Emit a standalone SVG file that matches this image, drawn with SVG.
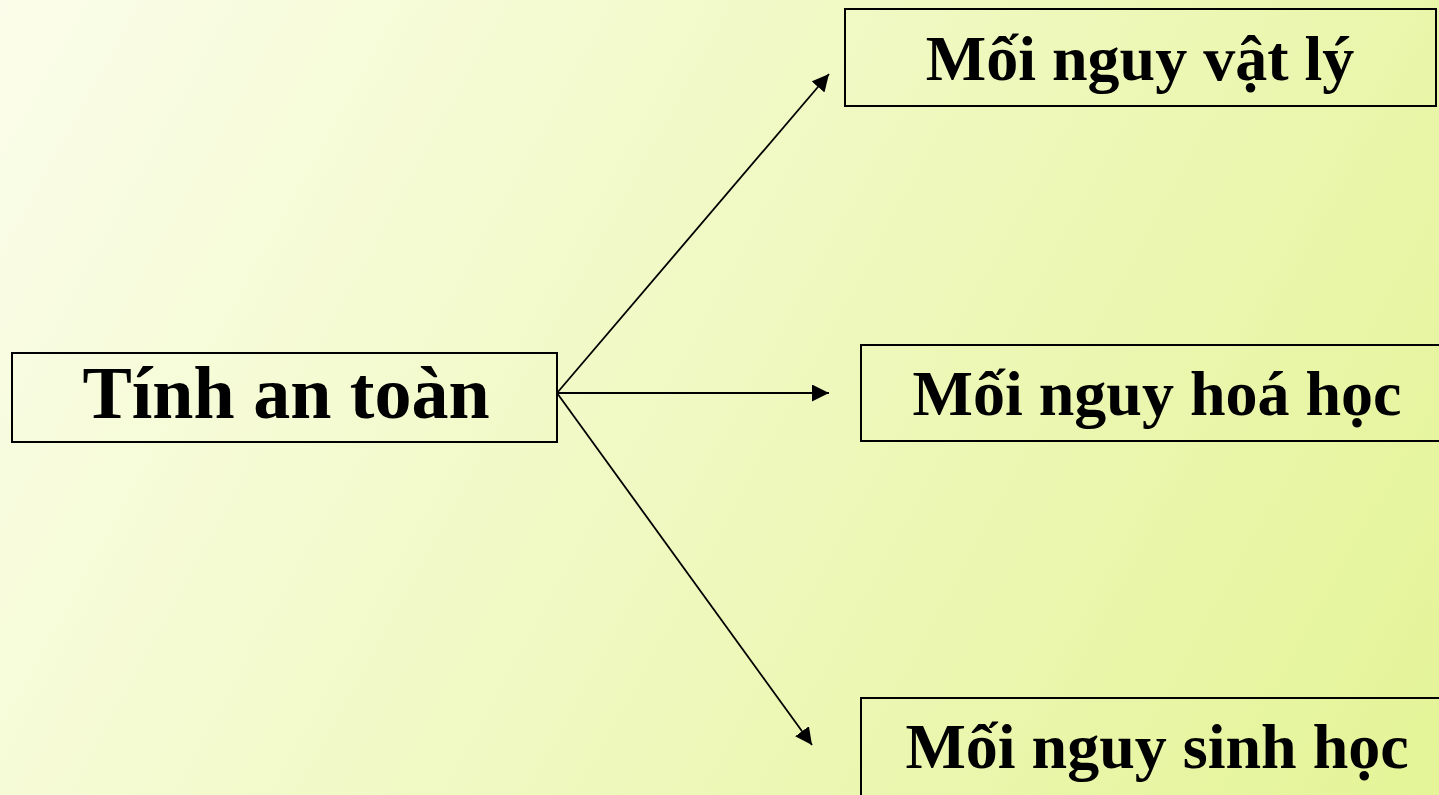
<svg xmlns="http://www.w3.org/2000/svg" width="1439" height="795" viewBox="0 0 1439 795">
  <defs>
    <linearGradient id="bg" x1="0" y1="0" x2="1439" y2="795" gradientUnits="userSpaceOnUse">
      <stop offset="0" stop-color="#fbfdea"/>
      <stop offset="1" stop-color="#e4f497"/>
    </linearGradient>
    <marker id="head" viewBox="0 0 10 10" refX="10" refY="5" markerWidth="17" markerHeight="17" markerUnits="userSpaceOnUse" orient="auto">
      <path d="M0,0 L10,5 L0,10 Z" fill="#000"/>
    </marker>
    <style>
      .box { fill: none; stroke: #000; stroke-width: 2; }
      .label { font-family: "Liberation Serif", "Times New Roman", serif; font-weight: bold; fill: #000; text-anchor: middle; }
      .edge { stroke: #000; stroke-width: 1.8; fill: none; marker-end: url(#head); }
    </style>
  </defs>

  <rect x="0" y="0" width="1439" height="795" fill="url(#bg)"/>

  <g id="connectors">
    <line class="edge" x1="557" y1="393" x2="829" y2="74"/>
    <line class="edge" x1="557" y1="393" x2="829" y2="393"/>
    <line class="edge" x1="557" y1="393" x2="812" y2="745"/>
  </g>

  <g id="safety">
    <rect class="box" x="12" y="353" width="545" height="89"/>
    <text class="label" x="286" y="418" font-size="74">Tính an toàn</text>
  </g>

  <g id="physical">
    <rect class="box" x="845" y="9" width="591" height="97"/>
    <text class="label" x="1140" y="80" font-size="64">Mối nguy vật lý</text>
  </g>

  <g id="chemical">
    <rect class="box" x="861" y="345" width="600" height="96"/>
    <text class="label" x="1157" y="415" font-size="64">Mối nguy hoá học</text>
  </g>

  <g id="biological">
    <rect class="box" x="861" y="698" width="600" height="120"/>
    <text class="label" x="1157" y="768" font-size="64">Mối nguy sinh học</text>
  </g>
</svg>
